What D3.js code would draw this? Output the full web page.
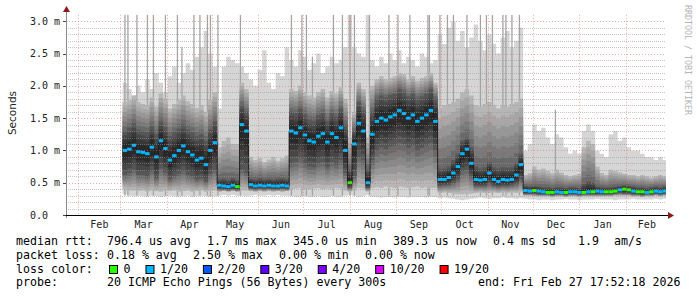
<!DOCTYPE html>
<html>
<head>
<meta charset="utf-8">
<script src="https://cdn.jsdelivr.net/npm/d3@7"></script>
<style>
  body { margin: 0; background: #fff; }
  svg { display: block; }
  .mono { font-family: "DejaVu Sans Mono", monospace; }
</style>
</head>
<body>
<script>
// one column every 3 days, first column 2025-03-04
var startDay = new Date(2025, 2, 4);
var stepDays = 3;

// median rtt (ms)
var med = [
  1.00,1.02,1.08,0.98,0.97,0.95,1.05,0.90,1.15,1.03,
  0.85,0.92,1.00,1.07,0.98,0.93,0.85,0.88,0.78,1.00,
  1.12,0.46,0.45,0.44,0.46,0.44,1.40,1.30,0.47,0.45,
  0.46,0.45,0.46,0.45,0.45,0.46,0.45,1.30,1.27,1.35,
  1.24,1.15,1.13,1.22,1.26,1.13,1.26,1.20,1.35,1.00,
  0.50,1.10,1.42,1.30,0.50,1.25,1.45,1.50,1.47,1.52,
  1.55,1.62,1.57,1.50,1.55,1.45,1.50,1.55,1.62,1.45,
  0.55,0.55,0.58,0.65,0.75,0.95,1.02,0.80,0.55,0.54,
  0.55,0.65,0.55,0.52,0.55,0.54,0.55,0.62,0.78,0.38,
  0.37,0.38,0.37,0.36,0.35,0.35,0.36,0.35,0.35,0.36,
  0.36,0.35,0.35,0.36,0.36,0.37,0.36,0.36,0.36,0.37,
  0.39,0.40,0.39,0.37,0.36,0.36,0.35,0.36,0.37,0.36,
  0.37];

// lost pings out of 20
var loss = [
  1,1,1,1,1,1,1,1,1,1,
  1,1,1,1,1,1,1,1,1,1,
  1,1,1,1,1,0,1,1,1,1,
  1,1,1,1,1,1,1,1,1,1,
  1,1,1,1,1,1,1,1,1,1,
  0,1,1,1,1,1,1,1,1,1,
  1,1,1,1,1,1,1,1,1,1,
  1,1,1,1,1,1,1,1,1,1,
  1,1,1,1,1,1,1,1,1,1,
  1,0,1,1,0,0,1,1,0,1,
  1,1,0,1,0,1,1,0,0,0,
  1,0,0,1,0,0,1,0,1,1,
  1];

// smoke: lowest ping, 10th pct, core low, core high, 90th pct, highest ping (ms)
var lo = [
  0.32,0.30,0.29,0.30,0.29,0.28,0.30,0.29,0.28,0.29,
  0.30,0.29,0.28,0.29,0.30,0.28,0.29,0.30,0.29,0.28,
  0.29,0.30,0.31,0.30,0.31,0.30,0.30,0.29,0.30,0.31,
  0.30,0.30,0.31,0.30,0.31,0.30,0.30,0.29,0.28,0.28,
  0.29,0.28,0.28,0.29,0.28,0.28,0.29,0.28,0.28,0.30,
  0.31,0.30,0.28,0.29,0.31,0.28,0.28,0.27,0.28,0.28,
  0.27,0.28,0.28,0.27,0.28,0.28,0.28,0.27,0.28,0.28,
  0.26,0.27,0.26,0.25,0.24,0.23,0.24,0.25,0.26,0.27,
  0.26,0.25,0.26,0.26,0.27,0.26,0.26,0.25,0.26,0.25,
  0.24,0.24,0.23,0.24,0.24,0.23,0.24,0.24,0.25,0.24,
  0.24,0.23,0.24,0.24,0.24,0.25,0.24,0.24,0.24,0.23,
  0.24,0.24,0.24,0.25,0.24,0.24,0.24,0.24,0.25,0.24,
  0.25];
var p10 = [
  0.40,0.38,0.38,0.37,0.38,0.36,0.38,0.37,0.36,0.38,
  0.37,0.38,0.36,0.37,0.38,0.36,0.37,0.38,0.36,0.37,
  0.38,0.36,0.37,0.36,0.37,0.36,0.38,0.38,0.37,0.36,
  0.37,0.36,0.37,0.36,0.37,0.36,0.37,0.40,0.41,0.42,
  0.40,0.40,0.41,0.42,0.40,0.41,0.40,0.42,0.41,0.38,
  0.36,0.38,0.42,0.41,0.36,0.42,0.43,0.42,0.44,0.43,
  0.42,0.44,0.43,0.42,0.43,0.44,0.42,0.43,0.42,0.42,
  0.34,0.35,0.34,0.33,0.32,0.32,0.33,0.33,0.34,0.35,
  0.34,0.34,0.35,0.34,0.35,0.34,0.35,0.34,0.35,0.30,
  0.30,0.29,0.29,0.29,0.29,0.28,0.29,0.29,0.28,0.29,
  0.29,0.28,0.29,0.29,0.29,0.29,0.29,0.29,0.29,0.30,
  0.30,0.30,0.30,0.29,0.29,0.28,0.29,0.29,0.30,0.29,
  0.30];
var c1 = [
  0.62,0.65,0.70,0.62,0.62,0.60,0.68,0.57,0.72,0.66,
  0.55,0.60,0.64,0.68,0.62,0.60,0.55,0.57,0.52,0.64,
  0.70,0.40,0.40,0.39,0.40,0.39,0.70,0.65,0.41,0.40,
  0.41,0.40,0.41,0.40,0.40,0.41,0.40,0.80,0.82,0.88,
  0.80,0.75,0.74,0.80,0.82,0.74,0.82,0.78,0.85,0.65,
  0.42,0.60,0.90,0.85,0.42,0.85,1.00,1.05,1.02,1.06,
  1.08,1.12,1.10,1.04,1.08,1.00,1.04,1.08,1.12,1.00,
  0.45,0.46,0.47,0.50,0.55,0.68,0.70,0.60,0.45,0.45,
  0.45,0.48,0.45,0.44,0.45,0.45,0.46,0.48,0.55,0.33,
  0.33,0.33,0.32,0.32,0.32,0.31,0.32,0.32,0.31,0.32,
  0.32,0.31,0.32,0.32,0.32,0.32,0.32,0.32,0.32,0.33,
  0.34,0.33,0.33,0.32,0.32,0.31,0.32,0.32,0.33,0.32,
  0.33];
var c2 = [
  1.30,1.35,1.42,1.32,1.30,1.28,1.38,1.25,1.45,1.36,
  1.22,1.28,1.34,1.40,1.32,1.28,1.22,1.25,1.15,1.33,
  1.45,0.55,0.56,0.54,0.57,0.54,1.70,1.60,0.56,0.55,
  0.57,0.55,0.56,0.55,0.56,0.57,0.55,1.60,1.58,1.65,
  1.56,1.48,1.46,1.55,1.58,1.46,1.58,1.52,1.65,1.40,
  0.70,1.30,1.75,1.62,0.70,1.60,1.80,1.85,1.82,1.86,
  1.88,1.95,1.90,1.84,1.88,1.80,1.84,1.88,1.95,1.80,
  0.72,0.72,0.75,0.85,0.95,1.15,1.20,1.05,0.75,0.72,
  0.74,0.82,0.74,0.72,0.74,0.73,0.74,0.80,0.95,0.45,
  0.44,0.45,0.44,0.43,0.43,0.42,0.43,0.43,0.42,0.43,
  0.43,0.42,0.48,0.52,0.50,0.44,0.43,0.43,0.43,0.44,
  0.45,0.46,0.45,0.44,0.43,0.43,0.42,0.43,0.44,0.43,
  0.44];
var p90 = [
  1.75,1.78,1.85,1.75,1.72,1.70,1.82,1.68,1.88,1.80,
  1.65,1.72,1.78,1.85,1.76,1.72,1.66,1.70,1.60,1.78,
  1.90,1.05,1.15,1.20,1.10,1.10,2.05,1.95,0.90,0.85,
  0.88,0.82,0.86,0.90,0.84,0.88,0.92,1.95,1.92,2.00,
  1.90,1.85,1.82,1.90,1.95,1.82,1.92,1.88,1.98,1.80,
  1.20,1.60,2.05,1.95,1.20,2.00,2.10,2.15,2.10,2.12,
  2.15,2.20,2.18,2.10,2.15,2.08,2.12,2.15,2.20,2.05,
  1.65,1.70,1.72,1.75,1.80,1.90,1.95,1.85,1.70,1.68,
  1.72,1.75,1.70,1.65,1.70,1.68,1.72,1.75,1.80,0.62,
  0.65,0.75,0.70,0.72,0.68,0.65,0.70,0.66,0.62,0.60,
  0.62,0.64,1.05,1.15,1.10,0.75,0.65,0.62,0.70,0.68,
  0.66,0.64,0.62,0.62,0.60,0.62,0.60,0.58,0.60,0.62,
  0.60];
var hi = [
  2.05,1.95,1.85,2.00,1.90,2.10,1.95,2.20,2.05,1.90,
  2.15,2.30,2.05,2.20,2.35,2.25,2.45,2.60,2.85,2.50,
  2.30,1.65,2.30,2.45,2.40,2.35,2.30,2.20,2.10,2.00,
  2.25,2.55,2.05,1.95,2.20,2.15,2.60,2.40,2.30,2.55,
  2.45,2.25,2.35,2.50,2.20,2.30,2.45,2.35,2.40,2.60,
  3.10,2.60,2.50,2.45,3.10,2.40,2.30,2.45,2.35,2.50,
  2.40,2.55,2.35,2.45,2.40,2.30,2.50,2.45,2.35,2.40,
  2.80,2.65,2.90,3.00,2.70,2.85,2.60,2.75,2.95,2.70,
  2.55,2.80,2.65,2.50,2.75,2.85,2.60,2.70,2.90,1.00,
  1.10,1.40,1.30,1.35,1.20,1.10,1.25,1.20,1.05,0.95,
  1.00,0.95,1.30,1.40,1.30,1.00,0.95,0.90,1.25,1.30,
  1.15,1.20,1.05,1.00,1.00,0.95,0.90,0.90,0.85,0.90,
  0.85];

// single outlier pings that reach far up
var spikeDays = ["2025-03-04","2025-03-06","2025-03-12","2025-03-19","2025-03-23","2025-03-31",
  "2025-04-08","2025-04-11","2025-04-19","2025-04-23","2025-04-28","2025-04-30","2025-05-05",
  "2025-05-20","2025-06-23","2025-06-30","2025-07-03","2025-07-07","2025-07-21","2025-07-27",
  "2025-08-01","2025-08-04","2025-08-14","2025-08-27","2025-09-02","2025-09-10","2025-09-22",
  "2025-09-23","2025-09-30","2025-10-05","2025-10-09","2025-10-18","2025-10-27","2025-10-31",
  "2025-11-04","2025-11-11","2025-11-13","2025-11-17","2025-11-22","2025-12-16"];
var spikeTop = [3.1,3.1,3.1,3.1,3.1,3.1, 3.1,2.6,3.1,3.1,3.1,3.1,3.1, 3.1,3.1,3.1,3.1,2.45,3.1,3.1,
  3.1,3.1,3.1,3.1,3.1,3.1,3.1, 3.1,3.1,3.1,3.1,3.1,3.1,3.1, 3.1,3.1,3.1,3.1,3.1,1.63];

var yTicks = [0, 0.5, 1.0, 1.5, 2.0, 2.5, 3.0];
var yLabels = ["0.0", "0.5 m", "1.0 m", "1.5 m", "2.0 m", "2.5 m", "3.0 m"];
var monthLabels = ["Feb","Mar","Apr","May","Jun","Jul","Aug","Sep","Oct","Nov","Dec","Jan","Feb"];

var lossNames = ["0", "1/20", "2/20", "3/20", "4/20", "10/20", "19/20"];
var lossCounts = [0, 1, 2, 3, 4, 10, 19];
var lossColors = ["#26ff00", "#00b8ff", "#0059ff", "#5e00ff", "#7e00ff", "#dd00ff", "#ff0000"];

var rttLine = [["median rtt:", 16], ["796.4 us avg", 107], ["1.7 ms max", 207], ["345.0 us min", 293],
  ["389.3 us now", 393], ["0.4 ms sd", 493], ["1.9", 578], ["am/s", 614]];
var lossLine = [["packet loss:", 16], ["0.18 % avg", 107], ["2.50 % max", 193], ["0.00 % min", 279], ["0.00 % now", 365]];
var probeLine = [["probe:", 16], ["20 ICMP Echo Pings (56 Bytes) every 300s", 107], ["end: Fri Feb 27 17:52:18 2026", 478]];

var W = 697, H = 297;
var svg = d3.select("body").append("svg").attr("width", W).attr("height", H);

var x = d3.scaleTime()
  .domain([new Date(2025, 0, 23, 17, 52), new Date(2026, 1, 27, 17, 52)])
  .range([66, 666]);
var y = d3.scaleLinear().domain([0, 3.0]).range([215, 21.3]);
var yTop = y(3.1);

var dates = med.map(function(d, i) { return d3.timeDay.offset(startDay, i * stepDays); });
var hw = (x(dates[1]) - x(dates[0])) / 2;

svg.append("defs").append("clipPath").attr("id", "plot")
  .append("rect").attr("x", 66).attr("y", yTop).attr("width", 600).attr("height", 215 - yTop);

var plot = svg.append("g").attr("clip-path", "url(#plot)");

// each column gets a left and right edge so the smoke is blocky like rrdtool
var pts = [];
dates.forEach(function(d, i) {
  pts.push({ x: x(d) - hw, i: i });
  pts.push({ x: x(d) + hw, i: i });
});

function band(lowF, highF, fill) {
  var a = d3.area()
    .x(function(p) { return p.x; })
    .y0(function(p) { return y(lowF(p.i)); })
    .y1(function(p) { return y(highF(p.i)); });
  plot.append("path").attr("d", a(pts)).attr("fill", fill);
}

band(function(i) { return lo[i]; }, function(i) { return hi[i]; }, "#d5d5d5");

// outlier spikes
plot.selectAll(".spike").data(spikeDays).enter().append("rect")
  .attr("x", function(d) { return x(d3.timeParse("%Y-%m-%d")(d)) - 0.6; })
  .attr("width", 1.3)
  .attr("y", function(d, i) { return y(spikeTop[i]); })
  .attr("height", function(d, i) { return y(0.3) - y(spikeTop[i]); })
  .attr("fill", "#a4a4a4");

// smoke gradient: outer percentiles in to the core
var K = 6;
for (var k = 0; k < K; k++) {
  (function(t) {
    var g = Math.round(182 - 92 * t);
    band(function(i) { return p10[i] + (c1[i] - p10[i]) * t; },
         function(i) { return p90[i] + (c2[i] - p90[i]) * t; },
         d3.rgb(g, g, g).toString());
  })(k / K);
}
// core in to the median
for (var k2 = 0; k2 < 4; k2++) {
  (function(t, g) {
    band(function(i) { return c1[i] + (med[i] - c1[i]) * t; },
         function(i) { return c2[i] + (med[i] - c2[i]) * t; },
         d3.rgb(g, g, g).toString());
  })(k2 / 4 * 0.85, Math.round(86 - 15 * k2));
}

// median: thin dark step line, then loss coloured marks
var medLine = d3.line().x(function(p) { return p.x; }).y(function(p) { return y(med[p.i]); });
plot.append("path").attr("d", medLine(pts)).attr("fill", "none").attr("stroke", "#1e1e1e").attr("stroke-width", 1);

function lossColor(n) {
  var idx = lossCounts.indexOf(n);
  return lossColors[idx < 0 ? 0 : idx];
}
plot.selectAll(".med").data(dates).enter().append("rect")
  .attr("x", function(d) { return x(d) - hw; })
  .attr("width", hw * 2)
  .attr("y", function(d, i) { return y(med[i]) - 1.5; })
  .attr("height", 3)
  .attr("fill", function(d, i) { return lossColor(loss[i]); });

// grid on top of graph
var grid = svg.append("g");
var minor = d3.range(1, 31).map(function(v) { return v / 10; }).filter(function(v) { return v % 0.5 > 0.01 && v % 0.5 < 0.49; });
grid.selectAll(".mn").data(minor).enter().append("line")
  .attr("x1", 66).attr("x2", 666)
  .attr("y1", function(d) { return Math.round(y(d)) + 0.5; })
  .attr("y2", function(d) { return Math.round(y(d)) + 0.5; })
  .attr("stroke", "rgba(150,150,150,0.55)").attr("stroke-dasharray", "1,1");

var months = d3.timeMonth.range(new Date(2025, 1, 1), new Date(2026, 2, 1));
grid.selectAll(".mv").data(months).enter().append("line")
  .attr("x1", function(d) { return Math.round(x(d)) + 0.5; })
  .attr("x2", function(d) { return Math.round(x(d)) + 0.5; })
  .attr("y1", yTop).attr("y2", 215)
  .attr("stroke", "rgba(225,100,100,0.55)").attr("stroke-dasharray", "1,2");
grid.selectAll(".mj").data(yTicks.slice(1)).enter().append("line")
  .attr("x1", 66).attr("x2", 666)
  .attr("y1", function(d) { return Math.round(y(d)) + 0.5; })
  .attr("y2", function(d) { return Math.round(y(d)) + 0.5; })
  .attr("stroke", "rgba(225,100,100,0.55)").attr("stroke-dasharray", "1,2");

// axes
svg.append("line").attr("x1", 66.5).attr("x2", 66.5).attr("y1", 10).attr("y2", 218)
  .attr("stroke", "#8a8a8a");
svg.append("path").attr("d", "M63,12 L70,12 L66.5,6 Z").attr("fill", "#8b1a1a");
svg.append("line").attr("x1", 63).attr("x2", 670).attr("y1", 215.5).attr("y2", 215.5)
  .attr("stroke", "#000");
svg.append("path").attr("d", "M668,212 L668,219 L674,215.5 Z").attr("fill", "#8b1a1a");

svg.selectAll(".ytk").data(yTicks).enter().append("line")
  .attr("x1", 63).attr("x2", 66)
  .attr("y1", function(d) { return Math.round(y(d)) + 0.5; })
  .attr("y2", function(d) { return Math.round(y(d)) + 0.5; })
  .attr("stroke", "#444");

svg.selectAll(".ylab").data(yTicks).enter().append("text")
  .attr("class", "mono")
  .attr("x", 30).attr("y", function(d) { return y(d) + 3.5; })
  .attr("font-size", "10px").attr("fill", "#222")
  .text(function(d, i) { return yLabels[i]; });

svg.selectAll(".xlab").data(months).enter().append("text")
  .attr("class", "mono")
  .attr("x", function(d) { return (x(d) + x(d3.timeMonth.offset(d, 1))) / 2; })
  .attr("y", 228)
  .attr("text-anchor", "middle").attr("font-size", "10px").attr("fill", "#222")
  .text(function(d, i) { return monthLabels[i]; });

svg.append("text")
  .attr("transform", "translate(15.5,113) rotate(-90)")
  .attr("text-anchor", "middle")
  .attr("font-family", "DejaVu Sans, sans-serif").attr("font-size", "10.5px").attr("fill", "#222")
  .text("Seconds");

svg.append("text").attr("class", "mono")
  .attr("transform", "translate(685,5) rotate(90)")
  .attr("font-size", "8.3px").attr("fill", "#b4b4b4")
  .text("RRDTOOL / TOBI OETIKER");

// legend
function textRow(items, yy) {
  svg.selectAll(null).data(items).enter().append("text")
    .attr("class", "mono").attr("font-size", "11.6px").attr("fill", "#000")
    .attr("x", function(d) { return d[1]; }).attr("y", yy)
    .text(function(d) { return d[0]; });
}
textRow(rttLine, 245);
textRow(lossLine, 258.7);
textRow(probeLine, 286);

svg.append("text").attr("class", "mono").attr("font-size", "11.6px")
  .attr("x", 16).attr("y", 272.5).text("loss color:");
var cx = 109;
lossNames.forEach(function(name, i) {
  svg.append("rect").attr("x", cx + 0.5).attr("y", 265.5).attr("width", 8).attr("height", 8)
    .attr("fill", lossColors[i]).attr("stroke", "#000").attr("stroke-width", 1);
  var t = svg.append("text").attr("class", "mono").attr("font-size", "11.6px")
    .attr("x", cx + 14.5).attr("y", 272.5).text(name);
  cx = cx + 14.5 + t.node().getComputedTextLength() + 15;
});
</script>
</body>
</html>
